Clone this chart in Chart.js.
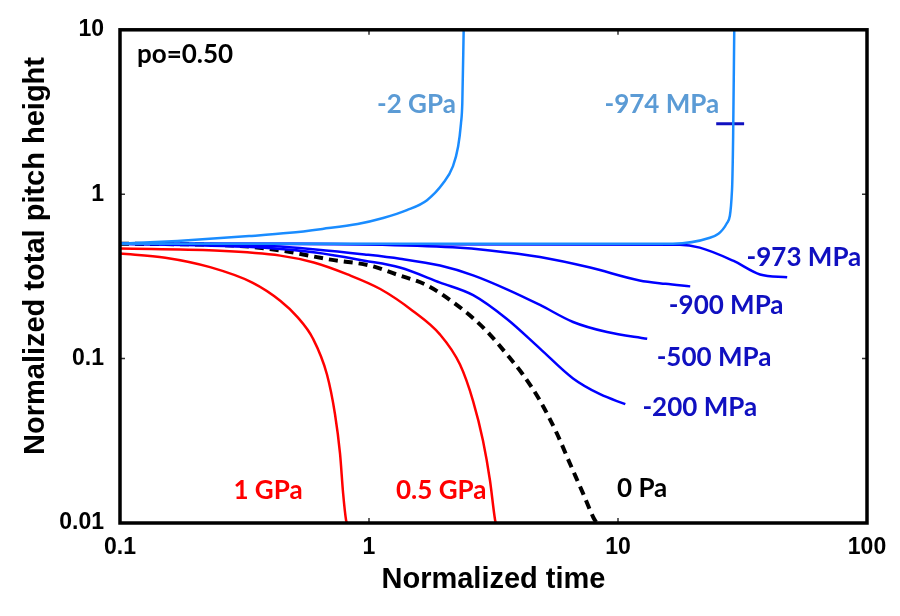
<!DOCTYPE html>
<html>
<head>
<meta charset="utf-8">
<script src="https://cdn.jsdelivr.net/npm/chart.js@4/dist/chart.umd.min.js"></script>
<style>
  html, body { margin: 0; padding: 0; background: #fff; }
  #wrap { width: 900px; height: 616px; }
</style>
</head>
<body>
<div id="wrap"><canvas id="chart" width="900" height="616"></canvas></div>
<script>
// ---- data (log-log) ----
const xTicks = [0.1, 1, 10, 100];
const xTickLabels = ['0.1', '1', '10', '100'];
const yTicks = [0.01, 0.1, 1, 10];
const yTickLabels = ['0.01', '0.1', '1', '10'];

// -2 GPa
const gpaM2X = [0.1, 0.17, 0.33, 0.48, 0.65, 0.9, 1.14, 1.42, 1.71, 1.98, 2.17, 2.28, 2.34, 2.37, 2.40];
const gpaM2Y = [0.5, 0.52, 0.556, 0.582, 0.615, 0.659, 0.717, 0.8, 0.92, 1.16, 1.47, 1.95, 2.68, 3.6, 10];
// -974 MPa
const mpa974X = [0.1, 16.6, 23.4, 27.4, 28.7, 29.0, 29.3];
const mpa974Y = [0.5, 0.5, 0.543, 0.668, 1.06, 2.24, 10];
// short marker on the -974 curve
const markX = [24.8, 32.1];
const markY = [2.68, 2.68];
// -973 MPa
const mpa973X = [0.1, 17.7, 21.3, 29.0, 37.2, 47.8];
const mpa973Y = [0.5, 0.493, 0.473, 0.394, 0.325, 0.312];
// -900 MPa
const mpa900X = [0.1, 0.5, 1.0, 2.17, 3.06, 4.86, 7.73, 12.2, 15.5, 19.5];
const mpa900Y = [0.5, 0.5, 0.495, 0.475, 0.455, 0.415, 0.358, 0.299, 0.285, 0.275];
// -500 MPa
const mpa500X = [0.1, 0.38, 0.61, 0.96, 1.33, 1.93, 2.62, 3.58, 4.86, 6.6, 9.04, 13.1];
const mpa500Y = [0.5, 0.485, 0.461, 0.43, 0.405, 0.368, 0.321, 0.264, 0.212, 0.167, 0.145, 0.132];
// -200 MPa
const mpa200X = [0.1, 0.38, 0.61, 0.96, 1.33, 1.93, 2.62, 3.58, 4.86, 6.6, 8.47, 10.7];
const mpa200Y = [0.5, 0.473, 0.442, 0.394, 0.358, 0.29, 0.243, 0.174, 0.115, 0.0757, 0.0607, 0.0528];
// 0 Pa
const pa0X = [0.1, 0.3, 0.44, 0.7, 1.01, 1.29, 1.71, 2.17, 2.62, 3.06, 3.58, 4.15, 4.86, 5.69, 6.41, 7.23, 7.94, 8.2];
const pa0Y = [0.5, 0.485, 0.455, 0.40, 0.368, 0.325, 0.279, 0.221, 0.176, 0.14, 0.106, 0.08, 0.0555, 0.0349, 0.023, 0.0152, 0.0109, 0.01];
// 0.5 GPa
const gpa05X = [0.1, 0.24, 0.44, 0.6, 0.82, 1.11, 1.5, 1.93, 2.32, 2.62, 2.87, 3.06, 3.21, 3.23];
const gpa05Y = [0.467, 0.454, 0.423, 0.384, 0.325, 0.265, 0.195, 0.14, 0.092, 0.055, 0.0316, 0.0182, 0.0104, 0.01];
// 1 GPa
const gpa1X = [0.1, 0.152, 0.23, 0.34, 0.44, 0.514, 0.596, 0.678, 0.73, 0.765, 0.787, 0.809, 0.816];
const gpa1Y = [0.436, 0.411, 0.36, 0.29, 0.225, 0.18, 0.132, 0.080, 0.046, 0.0264, 0.0152, 0.0104, 0.01];

// curve labels: text and where they sit (in data units)
const labelText = ['po=0.50', '-2 GPa', '-974 MPa', '-973 MPa', '-900 MPa', '-500 MPa', '-200 MPa', '0 Pa', '1 GPa', '0.5 GPa'];
const labelX = [0.117, 1.55, 15.0, 55.8, 27.2, 24.3, 21.3, 12.5, 0.393, 1.95];
const labelY = [7.06, 3.53, 3.53, 0.411, 0.211, 0.101, 0.05, 0.0163, 0.0158, 0.0158];

const LIGHT = '#1a8cff', LIGHT_TXT = '#5b9bd5', DARK = '#0000ff', DARK_TXT = '#1010c0', RED = '#ff0000';
const labelColor = ['#000', LIGHT_TXT, LIGHT_TXT, DARK_TXT, DARK_TXT, DARK_TXT, DARK_TXT, '#000', RED, RED];
const labelAlign = ['left', 'center', 'center', 'center', 'center', 'center', 'center', 'center', 'center', 'center'];

const pts = (xs, ys) => xs.map((x, i) => ({ x: x, y: ys[i] }));

function line(data, color, extra) {
    return Object.assign({
        data: data,
        borderColor: color,
        borderWidth: 2.5,
        pointRadius: 0,
        fill: false,
        cubicInterpolationMode: 'monotone'
    }, extra || {});
}

// frame, inner ticks, axis titles and curve labels
const decorate = {
    id: 'decorate',
    afterDraw(chart) {
        const ctx = chart.ctx, a = chart.chartArea;
        const xs = chart.scales.x, ys = chart.scales.y;
        ctx.save();
        // small inward ticks
        ctx.strokeStyle = '#333';
        ctx.lineWidth = 1.5;
        xTicks.forEach(v => {
            const px = xs.getPixelForValue(v);
            ctx.beginPath();
            ctx.moveTo(px, a.bottom); ctx.lineTo(px, a.bottom - 5);
            ctx.moveTo(px, a.top); ctx.lineTo(px, a.top + 5);
            ctx.stroke();
        });
        yTicks.forEach(v => {
            const py = ys.getPixelForValue(v);
            ctx.beginPath();
            ctx.moveTo(a.left, py); ctx.lineTo(a.left + 5, py);
            ctx.moveTo(a.right, py); ctx.lineTo(a.right - 5, py);
            ctx.stroke();
        });
        // frame
        ctx.strokeStyle = '#000';
        ctx.lineWidth = 3.5;
        ctx.strokeRect(a.left, a.top, a.right - a.left, a.bottom - a.top);

        // curve labels
        ctx.font = 'bold 26px Lato';
        ctx.textBaseline = 'middle';
        labelText.forEach((t, i) => {
            ctx.fillStyle = labelColor[i];
            ctx.textAlign = labelAlign[i];
            ctx.fillText(t, xs.getPixelForValue(labelX[i]), ys.getPixelForValue(labelY[i]));
        });

        // axis titles
        ctx.fillStyle = '#000';
        ctx.font = 'bold 29px "Liberation Sans"';
        ctx.textAlign = 'center';
        ctx.fillText('Normalized time', (a.left + a.right) / 2, 580);
        ctx.translate(36, 256);
        ctx.rotate(-Math.PI / 2);
        ctx.fillText('Normalized total pitch height', 0, 0);
        ctx.restore();
    }
};

const tickFont = { family: 'Liberation Sans', size: 23, weight: 'bold' };

new Chart(document.getElementById('chart'), {
    type: 'line',
    data: {
        datasets: [
            line(pts(gpaM2X, gpaM2Y), LIGHT),
            line(pts(mpa974X, mpa974Y), LIGHT),
            line(pts(mpa973X, mpa973Y), DARK),
            line(pts(mpa900X, mpa900Y), DARK),
            line(pts(mpa500X, mpa500Y), DARK),
            line(pts(mpa200X, mpa200Y), DARK),
            line(pts(pa0X, pa0Y), '#000', { borderWidth: 4, borderDash: [9, 6] }),
            line(pts(gpa05X, gpa05Y), RED),
            line(pts(gpa1X, gpa1Y), RED),
            line(pts(markX, markY), '#1010c0', { borderWidth: 3, cubicInterpolationMode: 'default' })
        ]
    },
    options: {
        responsive: false,
        animation: false,
        devicePixelRatio: 1,
        layout: { padding: { top: 25, right: 33, left: 0, bottom: 0 } },
        plugins: { legend: { display: false }, tooltip: { enabled: false } },
        scales: {
            x: {
                type: 'logarithmic',
                min: 0.1, max: 100,
                afterBuildTicks: s => { s.ticks = xTicks.map(v => ({ value: v })); },
                afterFit: s => { s.height = 93; },
                grid: { display: false, drawTicks: false },
                border: { display: false },
                ticks: {
                    color: '#000', font: tickFont, padding: 11, maxRotation: 0, autoSkip: false,
                    callback: (v, i) => xTickLabels[i]
                }
            },
            y: {
                type: 'logarithmic',
                min: 0.01, max: 10,
                afterBuildTicks: s => { s.ticks = yTicks.map(v => ({ value: v })); },
                afterFit: s => { s.width = 120; },
                grid: { display: false, drawTicks: false },
                border: { display: false },
                ticks: {
                    color: '#000', font: tickFont, padding: 16, autoSkip: false,
                    callback: (v, i) => yTickLabels[i]
                }
            }
        }
    },
    plugins: [decorate]
});
</script>
</body>
</html>
